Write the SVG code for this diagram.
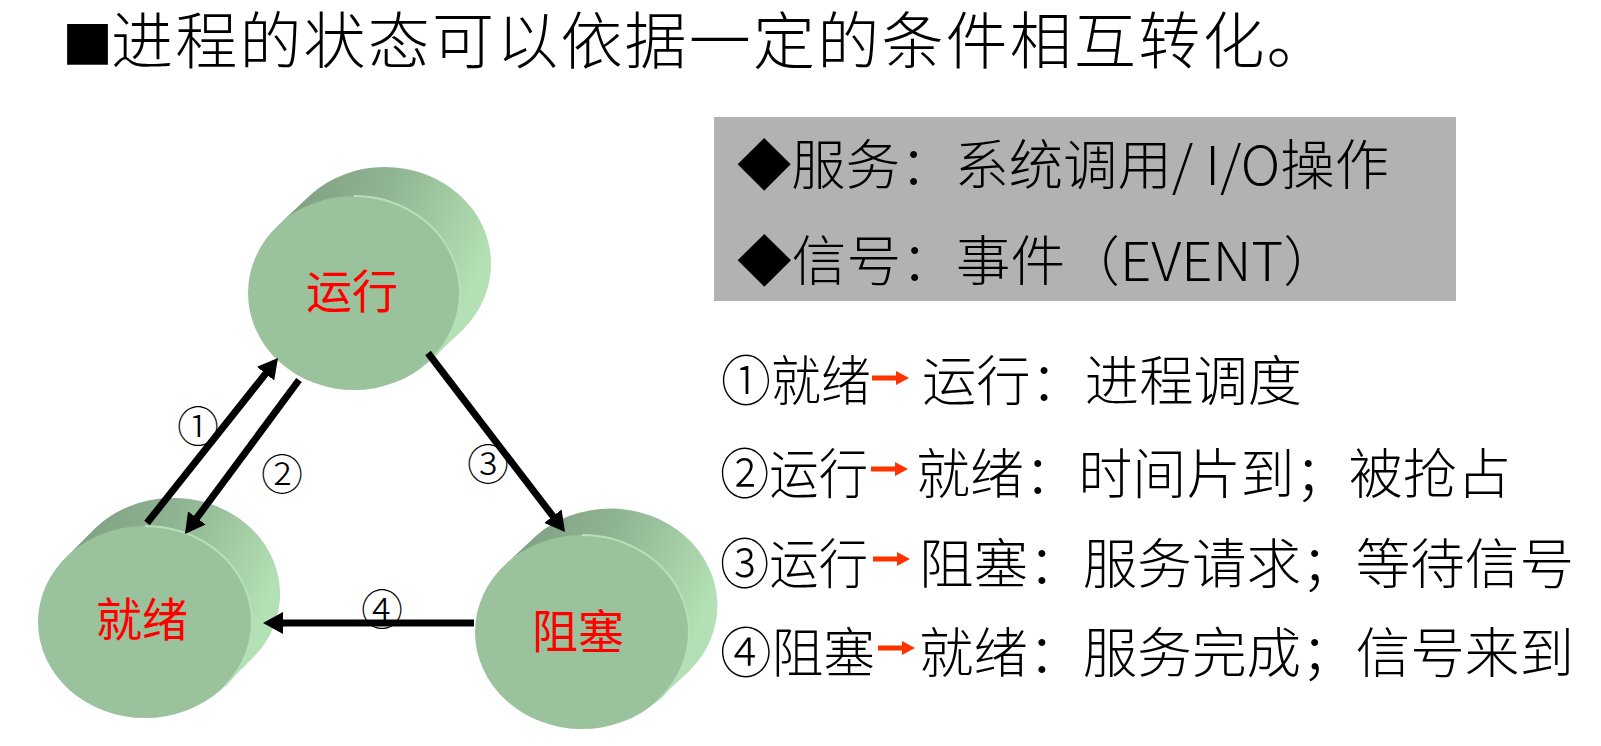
<svg xmlns="http://www.w3.org/2000/svg" width="1601" height="746" viewBox="0 0 1601 746">
<style>
  .cjk { font-family: "Noto Sans CJK SC", "Liberation Sans", sans-serif; font-weight: 300; }
  .title { font-size: 62px; fill: #000; letter-spacing: 2.2px; }
  .legend { font-size: 54px; fill: #000; }
  .rule { font-size: 54px; fill: #000; }
  .state { font-size: 46px; fill: #ff0000; font-weight: 400; }
  .num { font-size: 42px; fill: #000; }
  .front { fill: #9ac29c; }
  .side { fill: url(#sideGrad); }
  .rim { fill: none; stroke: #b8dfb8; stroke-width: 2; }
  .conn { stroke: #000; stroke-width: 7; fill: none; marker-end: url(#head); }
  .redarrow { fill: #ff3300; }
</style>
<defs>
  <linearGradient id="sideGrad" x1="0" y1="0" x2="1" y2="0.4">
    <stop offset="0" stop-color="#7b9b7e"/>
    <stop offset="0.5" stop-color="#91b694"/>
    <stop offset="1" stop-color="#b3e0b4"/>
  </linearGradient>
  <marker id="head" markerUnits="userSpaceOnUse" markerWidth="20" markerHeight="22" refX="6" refY="11" orient="auto" viewBox="0 0 20 22">
    <path d="M0,0 L20,11 L0,22 Z" fill="#000"/>
  </marker>
  <path id="rarrow" d="M0,-2.5 H24 V-7 L37,0 L24,7 V2.5 H0 Z"/>
</defs>

<rect width="1601" height="746" fill="#fff"/>

<g id="title">
  <text class="cjk" x="62" y="42" font-size="51" dominant-baseline="central">■</text>
  <text class="cjk title" x="111" y="37" dominant-baseline="central">进程的状态可以依据一定的条件相互转化。</text>
</g>

<g id="node-running">
  <path class="side" d="M278.1,225.3 L310.1,195.3 A106,97 0 0 1 461.9,330.7 L429.9,360.7 A106,97 0 0 0 278.1,225.3 Z"/>
  <ellipse class="front" cx="354" cy="293" rx="106" ry="97"/>
  <path class="rim" d="M354,196 A106,97 0 0 1 429.9,360.7"/>
  <text class="cjk state" x="352" y="288" text-anchor="middle" dominant-baseline="central">运行</text>
</g>

<g id="node-ready">
  <path class="side" d="M65.4,557.9 L95.4,527.9 A107,96 0 0 1 254.6,656.1 L224.6,686.1 A107,96 0 0 0 65.4,557.9 Z"/>
  <ellipse class="front" cx="145" cy="622" rx="107" ry="96"/>
  <path class="rim" d="M145,526 A107,96 0 0 1 224.6,686.1"/>
  <text class="cjk state" x="142" y="616" text-anchor="middle" dominant-baseline="central">就绪</text>
</g>

<g id="node-blocked">
  <path class="side" d="M505.3,564.4 L535.3,536.4 A107,97 0 0 1 688.7,671.6 L658.7,699.6 A107,97 0 0 0 505.3,564.4 Z"/>
  <ellipse class="front" cx="582" cy="632" rx="107" ry="97"/>
  <path class="rim" d="M582,535 A107,97 0 0 1 658.7,699.6"/>
  <text class="cjk state" x="578" y="628" text-anchor="middle" dominant-baseline="central">阻塞</text>
</g>

<g id="connectors">
  <line id="c1" class="conn" x1="147" y1="523" x2="269.3" y2="369"/>
  <line id="c2" class="conn" x1="299" y1="380" x2="193.3" y2="522.7"/>
  <line id="c3" class="conn" x1="428" y1="353" x2="556.5" y2="520.9"/>
  <line id="c4" class="conn" x1="474" y1="623" x2="277" y2="623"/>
  <text class="cjk num" x="198" y="423" text-anchor="middle" dominant-baseline="central">①</text>
  <text class="cjk num" x="282" y="471" text-anchor="middle" dominant-baseline="central">②</text>
  <text class="cjk num" x="488" y="461" text-anchor="middle" dominant-baseline="central">③</text>
  <text class="cjk num" x="382" y="606" text-anchor="middle" dominant-baseline="central">④</text>
</g>

<g id="legend">
  <rect x="714" y="117" width="742" height="184" fill="#b2b2b2"/>
  <text class="cjk legend" x="737" y="161" dominant-baseline="central" textLength="652" lengthAdjust="spacingAndGlyphs">◆服务：系统调用/ I/O操作</text>
  <text class="cjk legend" x="737" y="257" dominant-baseline="central" textLength="601" lengthAdjust="spacingAndGlyphs">◆信号：事件（EVENT）</text>
</g>

<g id="rules">
  <text class="cjk rule" x="721" y="377" dominant-baseline="central" textLength="150" lengthAdjust="spacingAndGlyphs">①就绪</text>
  <use href="#rarrow" class="redarrow" x="872" y="378"/>
  <text class="cjk rule" x="922" y="377" dominant-baseline="central" textLength="380" lengthAdjust="spacingAndGlyphs">运行：进程调度</text>

  <text class="cjk rule" x="720" y="470" dominant-baseline="central" textLength="148" lengthAdjust="spacingAndGlyphs">②运行</text>
  <use href="#rarrow" class="redarrow" x="871" y="469"/>
  <text class="cjk rule" x="916" y="470" dominant-baseline="central" textLength="595" lengthAdjust="spacingAndGlyphs">就绪：时间片到；被抢占</text>

  <text class="cjk rule" x="720" y="560" dominant-baseline="central" textLength="148" lengthAdjust="spacingAndGlyphs">③运行</text>
  <use href="#rarrow" class="redarrow" x="873" y="559"/>
  <text class="cjk rule" x="919" y="560" dominant-baseline="central" textLength="655" lengthAdjust="spacingAndGlyphs">阻塞：服务请求；等待信号</text>

  <text class="cjk rule" x="720" y="649" dominant-baseline="central" textLength="155" lengthAdjust="spacingAndGlyphs">④阻塞</text>
  <use href="#rarrow" class="redarrow" x="878" y="648"/>
  <text class="cjk rule" x="919" y="649" dominant-baseline="central" textLength="655" lengthAdjust="spacingAndGlyphs">就绪：服务完成；信号来到</text>
</g>
</svg>
